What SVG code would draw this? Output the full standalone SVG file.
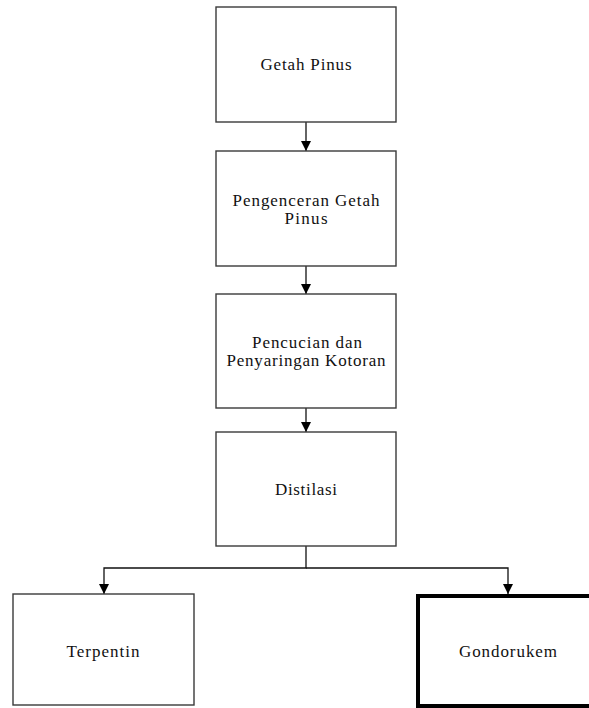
<svg xmlns="http://www.w3.org/2000/svg" width="589" height="708" viewBox="0 0 589 708">
<style>
.box{fill:#fff;stroke:#3a3a3a;stroke-width:1.4}
.thick{fill:#fff;stroke:#000;stroke-width:4}
.t{font-family:"Liberation Serif","Times New Roman",serif;font-size:17px;fill:#111;text-anchor:middle}
.c{fill:none;stroke:#111;stroke-width:1.3}
</style>
<defs>
<marker id="ah" markerWidth="10" markerHeight="10" refX="10" refY="5" orient="auto" markerUnits="userSpaceOnUse" viewBox="0 0 10 10">
<path d="M0,0 L10,5 L0,10 Z" fill="#000"/>
</marker>
</defs>
<rect width="589" height="708" fill="#fff"/>
<g id="connectors">
<line class="c" x1="306" y1="122" x2="306" y2="151" marker-end="url(#ah)"/>
<line class="c" x1="306" y1="266" x2="306" y2="294" marker-end="url(#ah)"/>
<line class="c" x1="306" y1="408" x2="306" y2="432" marker-end="url(#ah)"/>
<polyline class="c" points="306,546 306,568 104,568 104,594" marker-end="url(#ah)"/>
<polyline class="c" points="306,568 508,568 508,594" marker-end="url(#ah)"/>
</g>
<g id="n1">
<rect class="box" x="216" y="7" width="180" height="115"/>
<text class="t" x="306" y="70" textLength="91" lengthAdjust="spacing">Getah Pinus</text>
</g>
<g id="n2">
<rect class="box" x="216" y="151" width="180" height="115"/>
<text class="t" x="306" y="206" textLength="147" lengthAdjust="spacing">Pengenceran Getah</text>
<text class="t" x="306" y="224" textLength="43" lengthAdjust="spacing">Pinus</text>
</g>
<g id="n3">
<rect class="box" x="216" y="294" width="180" height="114"/>
<text class="t" x="307" y="348" textLength="110" lengthAdjust="spacing">Pencucian dan</text>
<text class="t" x="306" y="366" textLength="159" lengthAdjust="spacing">Penyaringan Kotoran</text>
</g>
<g id="n4">
<rect class="box" x="216" y="432" width="180" height="114"/>
<text class="t" x="306" y="495" textLength="62" lengthAdjust="spacing">Distilasi</text>
</g>
<g id="n5">
<rect class="box" x="13" y="594" width="181" height="111"/>
<text class="t" x="103" y="657" textLength="73" lengthAdjust="spacing">Terpentin</text>
</g>
<g id="n6">
<rect class="thick" x="418" y="596" width="200" height="110"/>
<text class="t" x="508" y="657" textLength="98" lengthAdjust="spacing">Gondorukem</text>
</g>
</svg>
